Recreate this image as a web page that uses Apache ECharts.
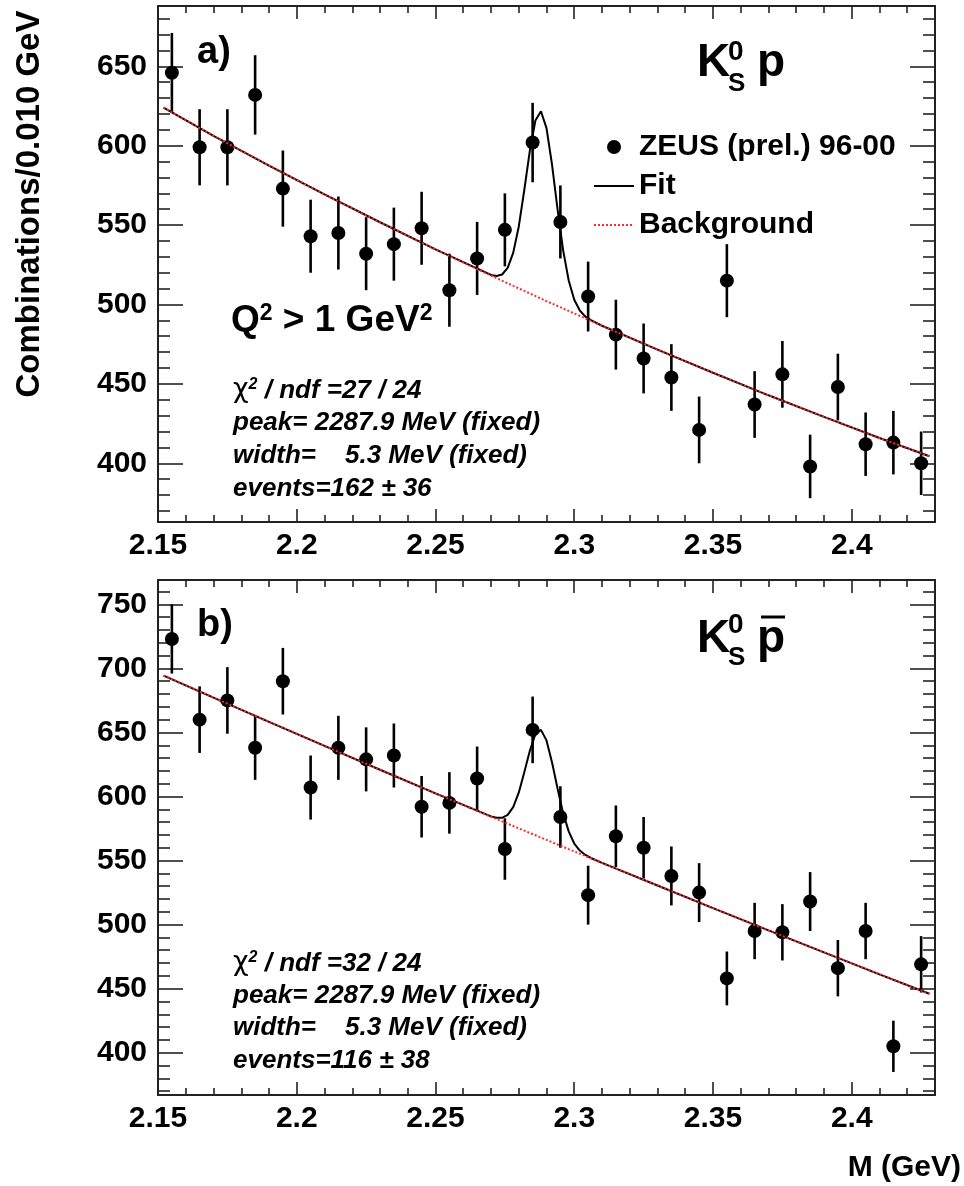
<!DOCTYPE html>
<html>
<head>
<meta charset="utf-8">
<script src="https://cdn.jsdelivr.net/npm/echarts@6/dist/echarts.min.js"></script>
<style>
html, body { margin: 0; padding: 0; background: #ffffff; }
#chart { width: 964px; height: 1186px; }
</style>
</head>
<body>
<div id="chart"></div>
<script>
// ---------------- data ----------------
const massBins = [2.155, 2.165, 2.175, 2.185, 2.195, 2.205, 2.215, 2.225, 2.235, 2.245, 2.255, 2.265, 2.275, 2.285,
                  2.295, 2.305, 2.315, 2.325, 2.335, 2.345, 2.355, 2.365, 2.375, 2.385, 2.395, 2.405, 2.415, 2.425];

// panel a) K0s p
const countsA = [646, 599, 599, 632, 573, 543, 545, 532, 538, 548, 509, 529, 547, 602,
                 552, 505, 481, 466, 454, 421, 515, 437, 456, 398, 448, 412, 413, 400];
const errorsA = [25, 24, 24, 25, 24, 23, 23, 23, 23, 23, 23, 23, 23, 25,
                 23, 22, 22, 22, 21, 21, 23, 21, 21, 20, 21, 20, 20, 20];

// panel b) K0s pbar
const countsB = [723, 660, 675, 638, 690, 607, 638, 629, 632, 592, 595, 614, 559, 652,
                 584, 523, 569, 560, 538, 525, 458, 495, 494, 518, 466, 495, 405, 469];
const errorsB = [27, 26, 26, 25, 26, 25, 25, 25, 25, 24, 24, 25, 24, 26,
                 24, 23, 24, 24, 23, 23, 21, 22, 22, 23, 22, 22, 20, 22];

// background curves
const bgMass = [2.152, 2.17, 2.19, 2.21, 2.23, 2.25, 2.27, 2.29, 2.31, 2.33, 2.35, 2.37, 2.39, 2.41, 2.428];
const bgA = [624, 606.2, 587.5, 569.3, 551.8, 534.7, 518.2, 502.1, 486.6, 471.6, 457.0, 442.8, 429.2, 415.9, 404.4];
const bgB = [694.4, 677.2, 658.3, 639.5, 620.9, 602.4, 584.2, 566.1, 548.2, 530.5, 512.9, 495.5, 478.3, 461.2, 446.0];

// full fit curves (background + peak)
const fitMass = [2.152, 2.17, 2.19, 2.21, 2.23, 2.25, 2.27,
                 2.272, 2.274, 2.276, 2.278, 2.28, 2.282, 2.284, 2.286, 2.288, 2.29, 2.292, 2.294, 2.296, 2.298, 2.3, 2.302, 2.304, 2.306,
                 2.31, 2.33, 2.35, 2.37, 2.39, 2.41, 2.428];
const fitA = [624, 606.2, 587.5, 569.3, 551.8, 534.7, 518.6,
              517.9, 518.9, 523.0, 532.5, 549.0, 572.1, 596.9, 615.9, 621.7, 611.1, 588.0, 559.8, 534.1, 515.1, 503.0, 496.2, 492.4, 490.1,
              486.6, 471.6, 457.0, 442.8, 429.2, 415.9, 404.4];
const fitB = [694.4, 677.2, 658.3, 639.5, 620.9, 602.4, 584.5,
              583.4, 583.4, 585.6, 591.7, 603.0, 618.9, 635.7, 648.6, 652.0, 643.8, 626.6, 606.1, 587.0, 572.8, 563.3, 557.8, 554.4, 552.0,
              548.2, 530.5, 512.9, 495.5, 478.3, 461.2, 446.0];

// axes / ticks
const xRange = [2.15, 2.43];
const yRangeA = [363, 688];
const yRangeB = [367, 769];
const xMajorTicks = [2.15, 2.2, 2.25, 2.3, 2.35, 2.4];
const xMinorTicks = [2.16, 2.17, 2.18, 2.19, 2.21, 2.22, 2.23, 2.24, 2.26, 2.27, 2.28, 2.29,
                     2.31, 2.32, 2.33, 2.34, 2.36, 2.37, 2.38, 2.39, 2.41, 2.42];
const yMajorTicksA = [400, 450, 500, 550, 600, 650];
const yMinorTicksA = [370, 380, 390, 410, 420, 430, 440, 460, 470, 480, 490, 510, 520, 530, 540,
                      560, 570, 580, 590, 610, 620, 630, 640, 660, 670, 680];
const yMajorTicksB = [400, 450, 500, 550, 600, 650, 700, 750];
const yMinorTicksB = [370, 380, 390, 410, 420, 430, 440, 460, 470, 480, 490, 510, 520, 530, 540,
                      560, 570, 580, 590, 610, 620, 630, 640, 660, 670, 680, 690, 710, 720, 730, 740, 760];

const legendNames = ['ZEUS (prel.) 96-00', 'Fit', 'Background'];

// ---------------- styling ----------------
const FONT = "'Liberation Sans', Arial, Helvetica, sans-serif";
const FRAME = '#222222';
const RED = '#ff2a2a';

function xAxesFor(grid) {
  const base = { type: 'value', gridIndex: grid, min: xRange[0], max: xRange[1], splitLine: { show: false }, minorTick: { show: false } };
  const line = { show: true, onZero: false, lineStyle: { color: FRAME, width: 2 } };
  const noLine = { show: false, onZero: false };
  const tick = (vals, len) => ({ show: true, inside: true, length: len, customValues: vals, lineStyle: { color: FRAME, width: 1.6 } });
  return [
    Object.assign({}, base, { position: 'bottom', axisLine: line, axisTick: tick(xMajorTicks, 13),
      axisLabel: { show: true, customValues: xMajorTicks, margin: 9, fontSize: 30, fontWeight: 'bold', fontFamily: FONT, color: '#000' } }),
    Object.assign({}, base, { position: 'bottom', axisLine: noLine, axisTick: tick(xMinorTicks, 7), axisLabel: { show: false } }),
    Object.assign({}, base, { position: 'top', axisLine: line, axisTick: tick(xMajorTicks, 13), axisLabel: { show: false } }),
    Object.assign({}, base, { position: 'top', axisLine: noLine, axisTick: tick(xMinorTicks, 7), axisLabel: { show: false } })
  ];
}

function yAxesFor(grid, range, majors, minors) {
  const base = { type: 'value', gridIndex: grid, min: range[0], max: range[1], splitLine: { show: false }, minorTick: { show: false } };
  const line = { show: true, onZero: false, lineStyle: { color: FRAME, width: 2 } };
  const noLine = { show: false, onZero: false };
  const tick = (vals, len) => ({ show: true, inside: true, length: len, customValues: vals, lineStyle: { color: FRAME, width: 1.6 } });
  return [
    Object.assign({}, base, { position: 'left', axisLine: line, axisTick: tick(majors, 25),
      axisLabel: { show: true, customValues: majors, margin: 11, fontSize: 30, fontWeight: 'bold', fontFamily: FONT, color: '#000' } }),
    Object.assign({}, base, { position: 'left', axisLine: noLine, axisTick: tick(minors, 12), axisLabel: { show: false } }),
    Object.assign({}, base, { position: 'right', axisLine: line, axisTick: tick(majors, 25), axisLabel: { show: false } }),
    Object.assign({}, base, { position: 'right', axisLine: noLine, axisTick: tick(minors, 12), axisLabel: { show: false } })
  ];
}

function errorSeries(name, axisIdx, counts, errs) {
  return {
    type: 'custom', name: name, xAxisIndex: axisIdx, yAxisIndex: axisIdx, silent: true,
    data: massBins.map((m, i) => [m, counts[i], errs[i]]),
    encode: { x: 0, y: 1 },
    renderItem: function (params, api) {
      const x = api.value(0), y = api.value(1), e = api.value(2);
      const p1 = api.coord([x, y - e]);
      const p2 = api.coord([x, y + e]);
      return { type: 'line', shape: { x1: p1[0], y1: p1[1], x2: p2[0], y2: p2[1] },
               style: { stroke: '#000', lineWidth: 2.6 } };
    }
  };
}

function pointSeries(axisIdx, counts) {
  return { type: 'scatter', name: legendNames[0], xAxisIndex: axisIdx, yAxisIndex: axisIdx,
           symbol: 'circle', symbolSize: 14, itemStyle: { color: '#000', opacity: 1 }, silent: true,
           data: massBins.map((m, i) => [m, counts[i]]) };
}

function fitSeries(axisIdx, vals) {
  return { type: 'line', name: legendNames[1], xAxisIndex: axisIdx, yAxisIndex: axisIdx, symbol: 'none', silent: true,
           lineStyle: { color: '#000', width: 2 }, itemStyle: { color: '#000' },
           data: fitMass.map((m, i) => [m, vals[i]]) };
}

function bgSeries(axisIdx, vals) {
  return { type: 'line', name: legendNames[2], xAxisIndex: axisIdx, yAxisIndex: axisIdx, symbol: 'none', silent: true,
           lineStyle: { color: RED, width: 2, type: [2, 2] }, itemStyle: { color: RED },
           data: bgMass.map((m, i) => [m, vals[i]]) };
}

function txt(x, y, text, font, extra) {
  return Object.assign({ type: 'text', x: x, y: y, silent: true,
    style: Object.assign({ text: text, font: font, fill: '#000', textAlign: 'left', textVerticalAlign: 'middle',
                           align: 'left', verticalAlign: 'middle' }, extra || {}) });
}

function statsBlock(x, y0, dy, chi, peak, width, events) {
  const f = 'italic bold 26px ' + FONT;
  return [
    { type: 'text', x: x, y: y0, silent: true,
      style: { text: '{c|χ}{s|2}{t| / ndf =' + chi + '}', textVerticalAlign: 'middle', verticalAlign: 'middle',
               rich: { c: { fontSize: 27, fontFamily: "'DejaVu Sans', sans-serif", fontStyle: 'normal', fontWeight: 'normal', fill: '#000', verticalAlign: 'bottom' },
                       s: { fontSize: 16, fontFamily: FONT, fontStyle: 'italic', fontWeight: 'bold', fill: '#000', verticalAlign: 'top' },
                       t: { fontSize: 26, fontFamily: FONT, fontStyle: 'italic', fontWeight: 'bold', fill: '#000', verticalAlign: 'bottom' } } } },
    txt(x, y0 + dy, 'peak= ' + peak + ' MeV (fixed)', f),
    txt(x, y0 + 2 * dy, 'width=    ' + width + ' MeV (fixed)', f),
    txt(x, y0 + 3 * dy, 'events=' + events, f)
  ];
}

const chart = echarts.init(document.getElementById('chart'), null, { renderer: 'canvas' });

const hiddenSymbol = { color: 'rgba(0,0,0,0)', opacity: 0, borderWidth: 0 };

const option = {
  animation: false,
  backgroundColor: '#ffffff',
  grid: [
    { left: 158, top: 6, width: 777, height: 516, outerBoundsMode: 'none', containLabel: false },
    { left: 158, top: 580, width: 777, height: 515, outerBoundsMode: 'none', containLabel: false }
  ],
  xAxis: xAxesFor(0).concat(xAxesFor(1)),
  yAxis: yAxesFor(0, yRangeA, yMajorTicksA, yMinorTicksA).concat(yAxesFor(1, yRangeB, yMajorTicksB, yMinorTicksB)),
  legend: {
    orient: 'vertical', left: 588, top: 127, itemWidth: 40, itemHeight: 14, itemGap: 9, selectedMode: false,
    textStyle: { fontSize: 30, fontWeight: 'bold', fontFamily: FONT, color: '#000' },
    data: [
      { name: legendNames[0], icon: 'circle', itemStyle: { color: '#000', opacity: 1 } },
      { name: legendNames[1], itemStyle: hiddenSymbol },
      { name: legendNames[2], itemStyle: hiddenSymbol }
    ]
  },
  series: [
    errorSeries('errA', 0, countsA, errorsA),
    pointSeries(0, countsA),
    fitSeries(0, fitA),
    bgSeries(0, bgA),
    errorSeries('errB', 4, countsB, errorsB),
    pointSeries(4, countsB),
    fitSeries(4, fitB),
    bgSeries(4, bgB)
  ],
  graphic: [
    // y axis title
    { type: 'text', x: 30, y: 204, rotation: Math.PI / 2, silent: true,
      style: { text: 'Combinations/0.010 GeV', font: 'bold 33px ' + FONT, fill: '#000',
               textAlign: 'center', textVerticalAlign: 'middle', align: 'center', verticalAlign: 'middle' } },
    // x axis title
    txt(961, 1168, 'M (GeV)', 'bold 30px ' + FONT, { textAlign: 'right', align: 'right' }),
    // panel labels
    txt(197, 53, 'a)', 'bold 38px ' + FONT),
    txt(197, 626, 'b)', 'bold 38px ' + FONT),
    // K0s p  (panel a)
    txt(697, 63, 'K', 'bold 46px ' + FONT),
    txt(728, 52, '0', 'bold 28px ' + FONT),
    txt(728, 84, 'S', 'bold 26px ' + FONT),
    txt(757, 63, 'p', 'bold 46px ' + FONT),
    // K0s pbar (panel b)
    txt(697, 639, 'K', 'bold 46px ' + FONT),
    txt(728, 625, '0', 'bold 28px ' + FONT),
    txt(728, 658, 'S', 'bold 26px ' + FONT),
    txt(757, 639, 'p', 'bold 46px ' + FONT),
    { type: 'line', silent: true, shape: { x1: 761, y1: 617, x2: 785, y2: 617 }, style: { stroke: '#000', lineWidth: 3 } },
    // Q2 label
    { type: 'text', x: 231, y: 321, silent: true,
      style: { text: '{q|Q}{s|2}{q| > 1 GeV}{s|2}', textVerticalAlign: 'middle', verticalAlign: 'middle',
               rich: { q: { fontSize: 37, fontWeight: 'bold', fontFamily: FONT, fill: '#000', verticalAlign: 'bottom' },
                       s: { fontSize: 23, fontWeight: 'bold', fontFamily: FONT, fill: '#000', verticalAlign: 'top' } } } }
  ].concat(
    statsBlock(233, 390, 33, '27 / 24', '2287.9', '5.3', '162 ± 36'),
    statsBlock(233, 963, 32.5, '32 / 24', '2287.9', '5.3', '116 ± 38')
  )
};

chart.setOption(option);
</script>
</body>
</html>
